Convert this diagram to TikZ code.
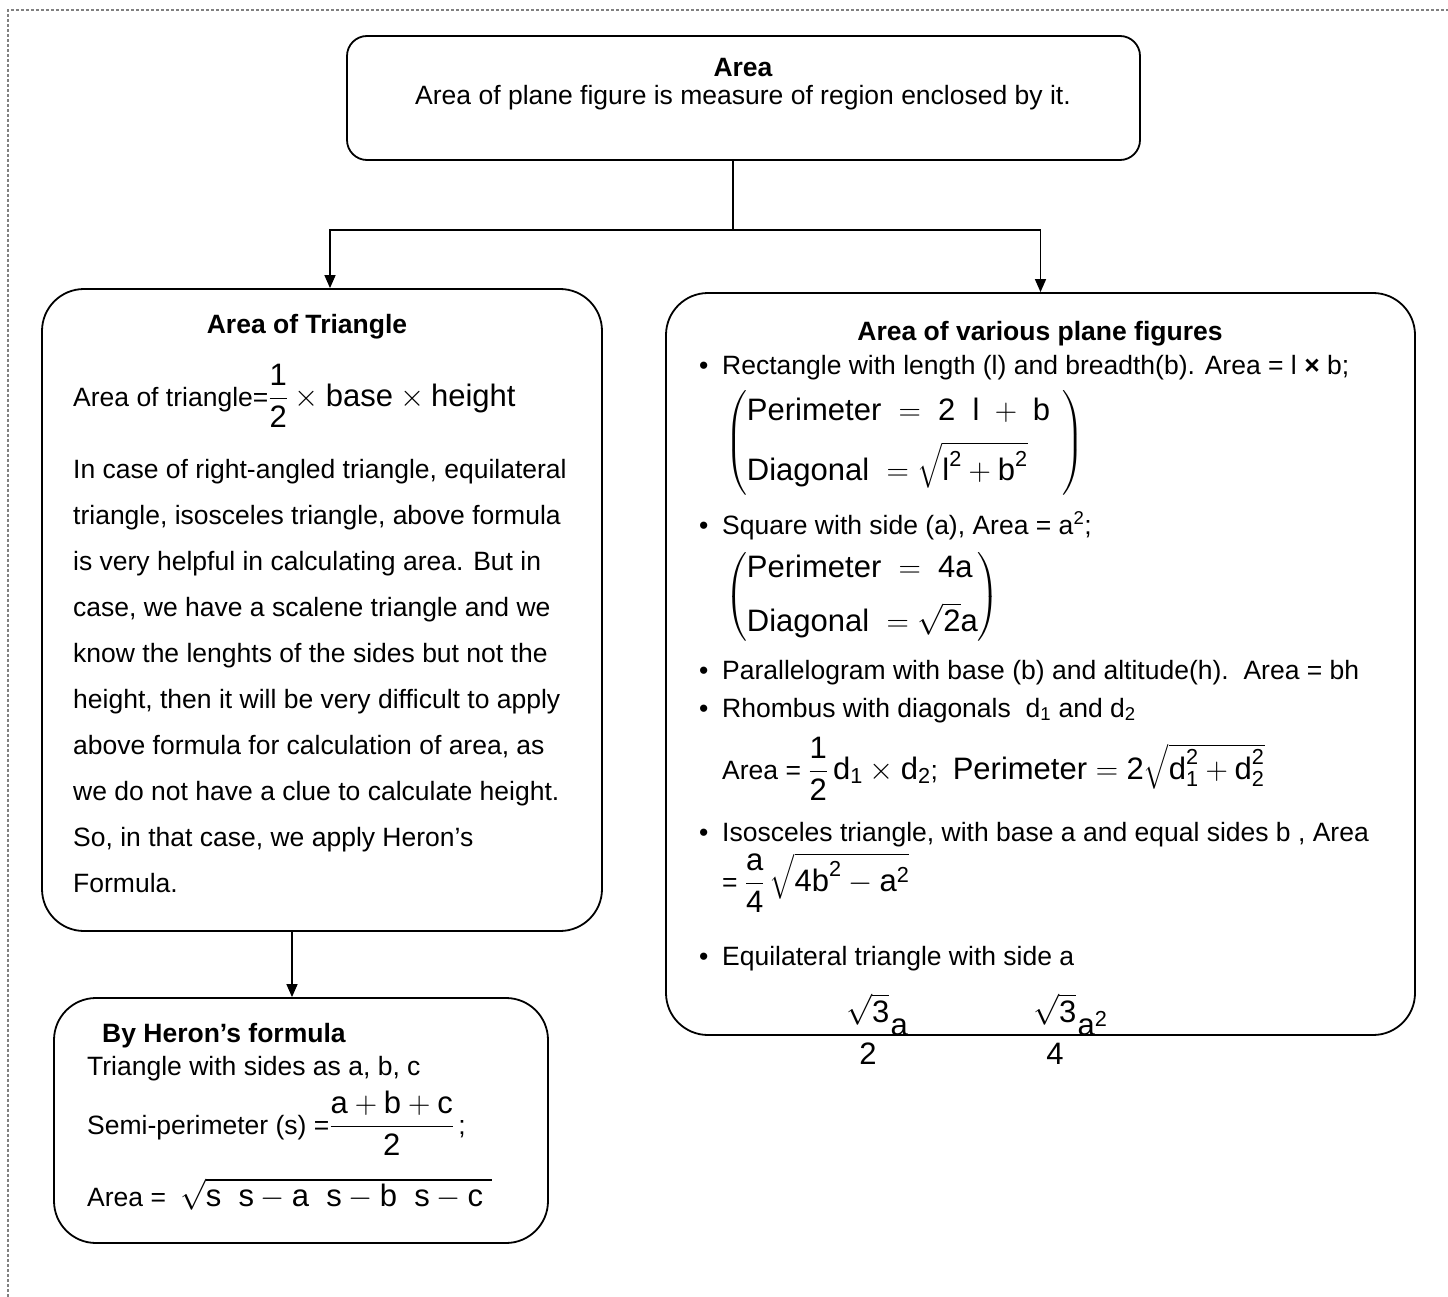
\RequirePackage{fix-cm}
\documentclass[tikz,border=0pt]{standalone}
\usepackage{amsmath}
\usepackage{fontspec}
\setmainfont{Liberation Sans}
\usetikzlibrary{arrows.meta}
\newcommand{\fs}{\fontsize{26.5}{30}\selectfont}
\newcommand{\fm}{\fontsize{31}{37}\selectfont}
\newcommand{\tx}[1]{\text{#1}}
\begin{document}
\begin{tikzpicture}[x=1pt,y=-1pt,
  box/.style={draw, line width=1.8pt, rounded corners=42pt, inner sep=0pt},
  topbox/.style={box, rounded corners=20pt},
  line/.style={line width=1.4pt},
  arr/.style={line width=1.4pt, -{Triangle[length=13pt,width=11pt]}},
  tl/.style={anchor=base west, inner sep=0pt, font=\fs},
  tc/.style={anchor=base, inner sep=0pt, font=\fs},
  border/.style={draw=gray, line width=1.3pt, dash pattern=on 3pt off 2pt}]
\useasboundingbox (0,0) rectangle (1448,1297);
\draw[border] (8,1297) -- (8,10) -- (1448,10);

% boxes
\node[topbox, minimum width=793pt, minimum height=124pt] (top) at (743.5,98) {};
\node[box, minimum width=560pt, minimum height=642pt] (tri) at (322,610) {};
\node[box, minimum width=494pt, minimum height=245pt] (her) at (301,1120.5) {};
\node[box, minimum width=749pt, minimum height=742pt] (var) at (1040.5,664) {};

% connectors
\coordinate (j) at (733,230);
\draw[line] ([xshift=-10.5pt]top.south) -- (j);
\draw[arr] (j) -| ([xshift=8pt]tri.north);
\draw[arr] (j) -| (var.north);
\draw[arr] ([xshift=-30pt]tri.south) -- ([xshift=-9pt]her.north);

% top texts
\node[tc] (t1) at (743,77) {\bfseries Area};
\node[tc] (t2) at (743,105) {Area of plane figure is measure of region enclosed by it.};

% triangle box
\node[tc] (a1) at (307,334) {\bfseries Area of Triangle};
\node[tl] (a2) at (73,406) {Area of triangle=\fm$\dfrac{\tx{1}}{\tx{2}}\times\tx{base}\times\tx{height}$};
\node[tl] (p1) at (73,478) {In case of right-angled triangle, equilateral};
\node[tl] (p2) at (73,524) {triangle, isosceles triangle, above formula};
\node[tl] (p3) at (73,570) {is very helpful in calculating area. But in};
\node[tl] (p4) at (73,616) {case, we have a scalene triangle and we};
\node[tl] (p5) at (73,662) {know the lenghts of the sides but not the};
\node[tl] (p6) at (73,708) {height, then it will be very difficult to apply};
\node[tl] (p7) at (73,754) {above formula for calculation of area, as};
\node[tl] (p8) at (73,800) {we do not have a clue to calculate height.};
\node[tl] (p9) at (73,846) {So, in that case, we apply Heron’s};
\node[tl] (p10) at (73,892) {Formula.};

% heron box
\node[tl] (h1) at (102,1042) {\bfseries By Heron’s formula};
\node[tl] (h2) at (87,1075) {Triangle with sides as a, b, c};
\node[tl] (h3) at (87,1134) {Semi-perimeter (s) =\fm$\dfrac{\tx{a}+\tx{b}+\tx{c}}{\tx{2}}$\fs\,;};
\node[tl] (h4) at (87,1206) {Area =\hspace{14pt}\fm$\sqrt{\tx{s}\;\;\tx{s}-\tx{a}\;\;\tx{s}-\tx{b}\;\;\tx{s}-\tx{c}\;}$};

% various figures box
\node[tc] (v0) at (1040,340) {\bfseries Area of various plane figures};
\node[tl] (b1) at (699,374) {•};
\node[tl] (v1) at (722,374) {Rectangle with length (l) and breadth(b). Area = l \textbf{×} b;};
\node[anchor=west, inner sep=0pt, font=\fm] (m1) at (725,443)
  {$\left(\begin{array}{@{}l@{}}\tx{Perimeter}\;=\;\tx{2}\;\;\tx{l}\;+\;\tx{b}\\[11pt]\tx{Diagonal}\;=\sqrt{\tx{l}^{\tx{2}}+\tx{b}^{\tx{2}}}\end{array}\hspace{12pt}\right)$};
\node[tl] (b2) at (699,534) {•};
\node[tl] (v2) at (722,534) {Square with side (a), Area = a\textsuperscript{2};};
\node[anchor=west, inner sep=0pt, font=\fm] (m2) at (725,597)
  {$\left(\begin{array}{@{}l@{}}\tx{Perimeter}\;=\;\tx{4a}\\[14pt]\tx{Diagonal}\;=\sqrt{\tx{2}}\tx{a}\end{array}\right)$};
\node[tl] (b3) at (699,679) {•};
\node[tl] (v3) at (722,679) {Parallelogram with base (b) and altitude(h).\ \ Area = bh};
\node[tl] (b4) at (699,717) {•};
\node[tl] (v4) at (722,717) {Rhombus with diagonals\ \ d\textsubscript{1} and d\textsubscript{2}};
\node[tl] (v5) at (722,779) {Area = \fm$\dfrac{\tx{1}}{\tx{2}}\,\tx{d}_{\tx{1}}\times\tx{d}_{\tx{2}}$\fs;\ \ \fm Perimeter $=\tx{2}\sqrt{\tx{d}_{\tx{1}}^{\tx{2}}+\tx{d}_{\tx{2}}^{\tx{2}}}$};
\node[tl] (b5) at (699,841) {•};
\node[tl] (v6) at (722,841) {Isosceles triangle, with base a and equal sides b , Area};
\node[tl] (v7) at (722,891) {= \fm$\dfrac{\tx{a}}{\tx{4}}\,\sqrt{\tx{4b}^{\tx{2}}-\tx{a}^{\tx{2}}}$};
\node[tl] (b6) at (699,965) {•};
\node[tl] (v8) at (722,965) {Equilateral triangle with side a};
\node[tl] (e1) at (845,1043) {\fm$\dfrac{\sqrt{\tx{3}}}{\tx{2}}\tx{\raisebox{8pt}{a}}$};
\node[tl] (e2) at (1032,1043) {\fm$\dfrac{\sqrt{\tx{3}}}{\tx{4}}\tx{\raisebox{8pt}{a}}^{\tx{2}}$};
\end{tikzpicture}
\end{document}
